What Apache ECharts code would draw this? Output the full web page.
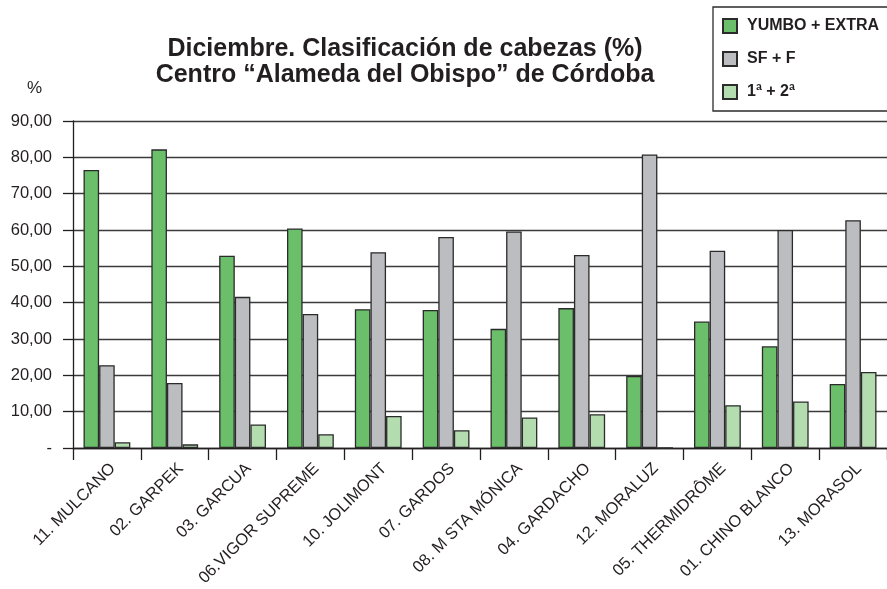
<!DOCTYPE html>
<html><head><meta charset="utf-8">
<script src="https://cdn.jsdelivr.net/npm/echarts@6/dist/echarts.min.js"></script>
<style>html,body{margin:0;padding:0;background:#fff}#c{width:887px;height:589px}</style>
</head><body><div id="c"></div>
<script>
var categories = ['11. MULCANO','02. GARPEK','03. GARCUA','06.VIGOR SUPREME','10. JOLIMONT','07. GARDOS','08. M STA MÓNICA','04. GARDACHO','12. MORALUZ','05. THERMIDRÔME','01. CHINO BLANCO','13. MORASOL'];
var yumboExtra = [76.5, 82.2, 52.9, 60.4, 38.2, 38.0, 32.8, 38.5, 19.8, 34.8, 28.0, 17.6];
var sfF = [22.8, 17.9, 41.6, 36.9, 53.9, 58.1, 59.6, 53.1, 80.8, 54.3, 60.0, 62.7];
var primeraSegunda = [1.6, 1.0, 6.5, 3.8, 8.8, 4.9, 8.4, 9.3, 0, 11.8, 12.8, 20.9];
var seriesNames = ['YUMBO + EXTRA', 'SF + F', '1ª + 2ª'];
var yTicks = [0, 10, 20, 30, 40, 50, 60, 70, 80, 90];

var font = '"Liberation Sans", Arial, sans-serif';
var colors = ['#6bbf6a', '#bcbdc1', '#b3dcaf'];
var chart = echarts.init(document.getElementById('c'), null, {renderer: 'canvas'});
function mk(name, data, i) {
  return {
    name: name, type: 'bar', data: data, barGap: '0%', barCategoryGap: '31%',
    itemStyle: {color: colors[i], borderColor: '#2b2b2b', borderWidth: 1.3},
    emphasis: {disabled: true}
  };
}
chart.setOption({
  animation: false,
  textStyle: {fontFamily: font},
  title: {
    text: 'Diciembre. Clasificación de cabezas (%)\nCentro “Alameda del Obispo” de Córdoba',
    left: 400, top: 31, textAlign: 'center',
    textStyle: {fontFamily: font, fontSize: 25, fontWeight: 'bold', color: '#231f20', lineHeight: 26}
  },
  graphic: [{
    type: 'text', left: 27, top: 80,
    style: {text: '%', font: '17px ' + font, fill: '#231f20'}
  }],
  legend: {
    orient: 'vertical', left: 713, top: 7,
    padding: [11, 40, 11, 9], itemGap: 17,
    itemWidth: 14, itemHeight: 14,
    borderColor: '#2b2b2b', borderWidth: 1.3,
    icon: 'rect',
    textStyle: {fontFamily: font, fontSize: 16, fontWeight: 'bold', color: '#231f20', padding: [0, 0, 0, 5]},
    data: seriesNames
  },
  grid: {left: 73, top: 121, width: 821, height: 327, containLabel: false},
  xAxis: {
    type: 'category', data: categories,
    axisLine: {lineStyle: {color: '#231f20', width: 1.3}},
    axisTick: {show: true, length: 12, interval: 0, lineStyle: {color: '#231f20', width: 1.3}},
    axisLabel: {interval: 0, rotate: 45, margin: 12, verticalAlign: 'top', fontSize: 16.5, color: '#231f20', fontFamily: font}
  },
  yAxis: {
    type: 'value', min: yTicks[0], max: yTicks[yTicks.length - 1], interval: 10,
    axisLine: {show: true, lineStyle: {color: '#231f20', width: 1.3}},
    axisTick: {show: true, length: 10, lineStyle: {color: '#231f20', width: 1.3}},
    splitLine: {show: true, lineStyle: {color: '#3a3a3a', width: 1.3}},
    axisLabel: {
      margin: 21, fontSize: 16.5, color: '#231f20', fontFamily: font,
      formatter: function (v) { return v === 0 ? '-' : v.toFixed(2).replace('.', ','); }
    }
  },
  series: [mk(seriesNames[0], yumboExtra, 0), mk(seriesNames[1], sfF, 1), mk(seriesNames[2], primeraSegunda, 2)]
});
</script></body></html>
